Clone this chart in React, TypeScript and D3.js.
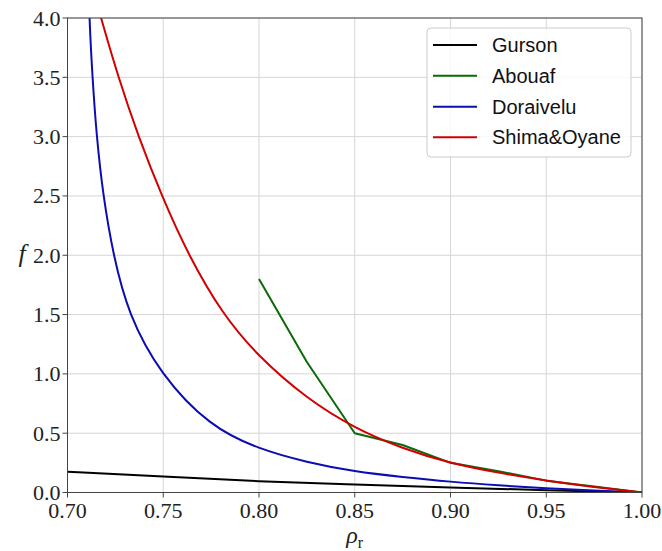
import React from "react";
import * as d3 from "d3";

const xTicks = [0.7, 0.75, 0.8, 0.85, 0.9, 0.95, 1.0];
const yTicks = [0, 0.5, 1.0, 1.5, 2.0, 2.5, 3.0, 3.5, 4.0];

const gursonX = [0.7, 0.75, 0.8, 0.85, 0.875, 0.9, 0.95, 1.0];
const gursonY = [0.175, 0.134, 0.093, 0.066, 0.055, 0.043, 0.018, 0.0];

const abouafX = [0.8, 0.825, 0.85, 0.875, 0.9, 0.925, 0.95, 0.975, 1.0];
const abouafY = [1.8, 1.1, 0.5, 0.4, 0.25, 0.18, 0.1, 0.05, 0.0];

const doraiveluX = [0.7108, 0.7114, 0.713, 0.7152, 0.7186, 0.7239, 0.7318, 0.7483, 0.7744, 0.8, 0.825, 0.85, 0.875, 0.9, 0.925, 0.95, 0.975, 1.0];
const doraiveluY = [4.4, 4.0, 3.5, 3.0, 2.5, 2.0, 1.5, 1.0, 0.555, 0.365, 0.255, 0.175, 0.13, 0.09, 0.06, 0.035, 0.015, 0.0];

const shimaX = [0.7155, 0.7175, 0.7265, 0.737, 0.7492, 0.7631, 0.781, 0.8, 0.825, 0.85, 0.875, 0.9, 0.925, 0.95, 0.975, 1.0];
const shimaY = [4.12, 4.0, 3.5, 3.0, 2.5, 2.0, 1.5, 1.14, 0.79, 0.54, 0.37, 0.245, 0.165, 0.1, 0.045, 0.0];

const seriesNames = ["Gurson", "Abouaf", "Doraivelu", "Shima&Oyane"];
const seriesColors = ["#000000", "#0a6a0a", "#0c0cb4", "#d20000"];

export default function App() {
  const W = 662, H = 551;
  const L = 67.5, R = 642, T = 18, B = 492.5;
  const x = d3.scaleLinear().domain([0.7, 1.0]).range([L, R]);
  const y = d3.scaleLinear().domain([0, 4]).range([B, T]);

  const smooth = d3.line<[number, number]>().x(d => x(d[0])).y(d => y(d[1])).curve(d3.curveBasis);
  const straight = d3.line<[number, number]>().x(d => x(d[0])).y(d => y(d[1]));

  const zip = (a: number[], b: number[]) => a.map((v, i) => [v, b[i]] as [number, number]);

  const paths = [
    smooth(zip(gursonX, gursonY)),
    straight(zip(abouafX, abouafY)),
    smooth(zip(doraiveluX, doraiveluY)),
    smooth(zip(shimaX, shimaY)),
  ];

  const serif = "'Liberation Serif', 'DejaVu Serif', serif";
  const sans = "'Liberation Sans', Arial, sans-serif";

  const legX = 427, legY = 28, legW = 204, legH = 129;
  const rowY = [45, 75.7, 106.7, 137.3];

  return (
    <svg width={W} height={H} style={{ position: "absolute", left: 0, top: 0, background: "#fff" }}>
      <defs>
        <clipPath id="plot">
          <rect x={L} y={T} width={R - L} height={B - T} />
        </clipPath>
      </defs>
      <rect x={0} y={0} width={W} height={H} fill="#fff" />
      {xTicks.map((t, i) => (
        <line key={"gx" + i} x1={x(t)} x2={x(t)} y1={T} y2={B} stroke="#d6d6d6" strokeWidth={1} />
      ))}
      {yTicks.map((t, i) => (
        <line key={"gy" + i} x1={L} x2={R} y1={y(t)} y2={y(t)} stroke="#d6d6d6" strokeWidth={1} />
      ))}
      <g clipPath="url(#plot)">
        {paths.map((p, i) => (
          <path key={"s" + i} d={p || ""} fill="none" stroke={seriesColors[i]} strokeWidth={2} strokeLinejoin="round" />
        ))}
      </g>
      <rect x={L} y={T} width={R - L} height={B - T} fill="none" stroke="#444" strokeWidth={1} />
      {xTicks.map((t, i) => (
        <g key={"xt" + i}>
          <line x1={x(t)} x2={x(t)} y1={B} y2={B + 5} stroke="#444" strokeWidth={1} />
          <text x={x(t)} y={B + 25} textAnchor="middle" fontFamily={serif} fontSize={22} fill="#222">
            {t.toFixed(2)}
          </text>
        </g>
      ))}
      {yTicks.map((t, i) => (
        <g key={"yt" + i}>
          <line x1={L - 5} x2={L} y1={y(t)} y2={y(t)} stroke="#444" strokeWidth={1} />
          <text x={L - 7} y={y(t) + 7.5} textAnchor="end" fontFamily={serif} fontSize={22} fill="#222">
            {t.toFixed(1)}
          </text>
        </g>
      ))}
      <text x={(L + R) / 2} y={543} textAnchor="middle" fontFamily={serif} fontSize={24} fill="#222">
        <tspan fontStyle="italic">ρ</tspan>
        <tspan fontSize={16} dy={5}>r</tspan>
      </text>
      <text x={22} y={262} textAnchor="middle" fontFamily={serif} fontStyle="italic" fontSize={26} fill="#222">
        f
      </text>
      <rect x={legX} y={legY} width={legW} height={legH} rx={4} ry={4} fill="#fff" fillOpacity={0.85} stroke="#cccccc" strokeWidth={1} />
      {seriesNames.map((n, i) => (
        <g key={"lg" + i}>
          <line x1={433} x2={477} y1={rowY[i]} y2={rowY[i]} stroke={seriesColors[i]} strokeWidth={2} />
          <text x={492} y={rowY[i] + 7} fontFamily={sans} fontSize={20} fill="#111">
            {n}
          </text>
        </g>
      ))}
    </svg>
  );
}
